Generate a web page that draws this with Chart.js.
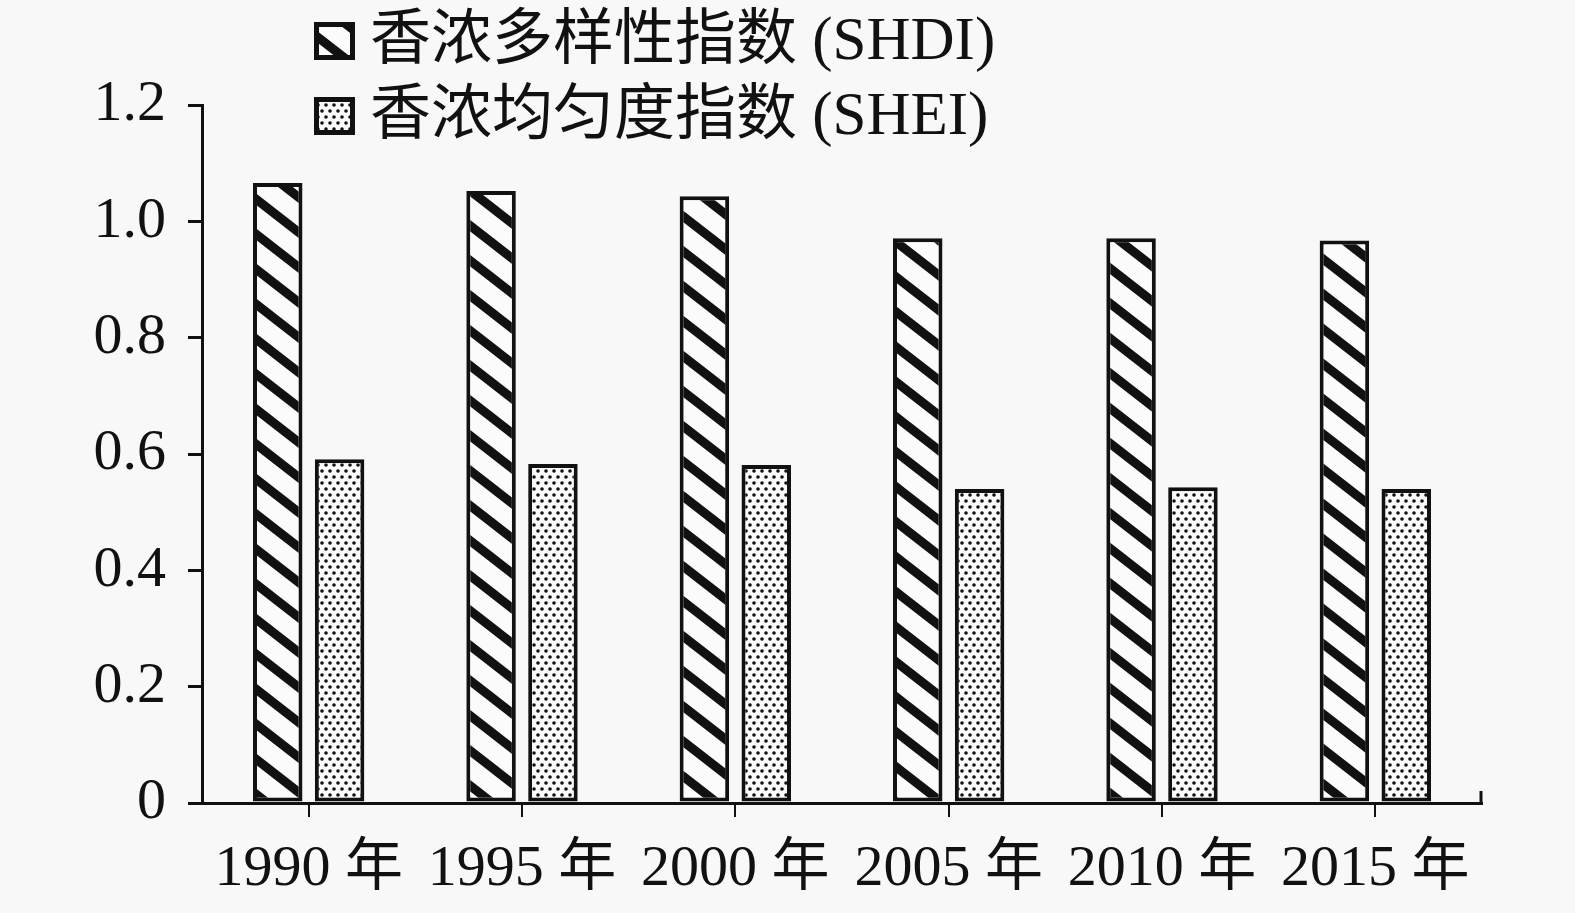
<!DOCTYPE html>
<html>
<head>
<meta charset="utf-8">
<script src="https://cdn.jsdelivr.net/npm/chart.js@4.4.1/dist/chart.umd.min.js"></script>
<style>
  html, body { margin: 0; padding: 0; background: #f8f8f8; }
  #wrap { width: 1575px; height: 913px; }
</style>
</head>
<body>
<div id="wrap"><canvas id="chart" width="1575" height="913"></canvas></div>
<script>
var categories = ['1990 年', '1995 年', '2000 年', '2005 年', '2010 年', '2015 年'];
var shdiValues = [1.066, 1.052, 1.043, 0.971, 0.971, 0.967];
var sheiValues = [0.591, 0.583, 0.581, 0.540, 0.543, 0.540];
var yTickLabels = ['0', '0.2', '0.4', '0.6', '0.8', '1.0', '1.2'];
var seriesNames = ['香浓多样性指数 (SHDI)', '香浓均匀度指数 (SHEI)'];

var FONT = "'Liberation Serif', 'Noto Sans CJK SC', serif";

// hatch: black diagonal stripes
function stripePattern() {
    var w = 45, h = 35;
    var c = document.createElement('canvas');
    c.width = w; c.height = h;
    var g = c.getContext('2d');
    g.fillStyle = '#fbfbfb';
    g.fillRect(0, 0, w, h);
    g.strokeStyle = '#111';
    g.lineWidth = 9;
    [-w, 0, w].forEach(function (dx) {
        g.beginPath();
        g.moveTo(dx - w, -h);
        g.lineTo(dx + 2 * w, 2 * h);
        g.stroke();
    });
    return g.createPattern(c, 'repeat');
}

// dots
function dotPattern() {
    var c = document.createElement('canvas');
    c.width = 8; c.height = 12;
    var g = c.getContext('2d');
    g.fillStyle = '#fbfbfb';
    g.fillRect(0, 0, 8, 12);
    g.fillStyle = '#111';
    [[2, 3], [6, 9]].forEach(function (p) {
        g.beginPath();
        g.arc(p[0], p[1], 1.8, 0, Math.PI * 2);
        g.fill();
    });
    return g.createPattern(c, 'repeat');
}

var ctx = document.getElementById('chart').getContext('2d');

var legendPlugin = {
    id: 'sideLegend',
    afterDraw: function (chart) {
        var c = chart.ctx;
        var rows = [41, 116];
        c.save();
        chart.data.datasets.forEach(function (ds, i) {
            var y = rows[i];
            c.fillStyle = ds.backgroundColor;
            c.fillRect(314, y - 19, 41, 38);
            c.strokeStyle = '#111';
            c.lineWidth = 5;
            c.strokeRect(316.5, y - 16.5, 36, 33);
            c.fillStyle = '#111';
            c.font = '61px ' + FONT;
            c.textBaseline = 'middle';
            c.fillText(ds.label, 370, y + 2);
        });
        // small upward tick at the right end of the x axis
        var a = chart.chartArea;
        c.strokeStyle = '#111';
        c.lineWidth = 3;
        c.beginPath();
        c.moveTo(a.right - 1, a.bottom);
        c.lineTo(a.right - 1, a.bottom - 12);
        c.stroke();
        c.restore();
    }
};

var chart = new Chart(ctx, {
    type: 'bar',
    data: {
        labels: categories,
        datasets: [{
            label: seriesNames[0],
            data: shdiValues,
            backgroundColor: stripePattern(),
            borderColor: '#111',
            borderWidth: 4,
            borderSkipped: false
        }, {
            label: seriesNames[1],
            data: sheiValues,
            backgroundColor: dotPattern(),
            borderColor: '#111',
            borderWidth: 4,
            borderSkipped: false
        }]
    },
    options: {
        responsive: false,
        animation: false,
        datasets: {
            bar: { categoryPercentage: 0.58, barPercentage: 0.8 }
        },
        layout: { padding: { top: 105, right: 93, left: 0, bottom: 0 } },
        plugins: {
            legend: { display: false },
            tooltip: { enabled: false }
        },
        scales: {
            x: {
                afterFit: function (s) { s.height = 110; },
                grid: {
                    offset: false,
                    drawOnChartArea: false,
                    color: '#111',
                    lineWidth: 2,
                    tickLength: 14
                },
                border: { color: '#111', width: 3 },
                ticks: {
                    color: '#111',
                    font: { family: FONT, size: 58 },
                    padding: 18,
                    maxRotation: 0,
                    autoSkip: false
                }
            },
            y: {
                min: 0,
                max: 1.2,
                afterFit: function (s) { s.width = 202; },
                grid: {
                    drawOnChartArea: false,
                    color: '#111',
                    lineWidth: 3,
                    tickLength: 14
                },
                border: { color: '#111', width: 3 },
                ticks: {
                    stepSize: 0.2,
                    color: '#111',
                    font: { family: FONT, size: 58 },
                    padding: 22,
                    callback: function (v, i) { return yTickLabels[i]; }
                }
            }
        }
    },
    plugins: [legendPlugin]
});
</script>
</body>
</html>
